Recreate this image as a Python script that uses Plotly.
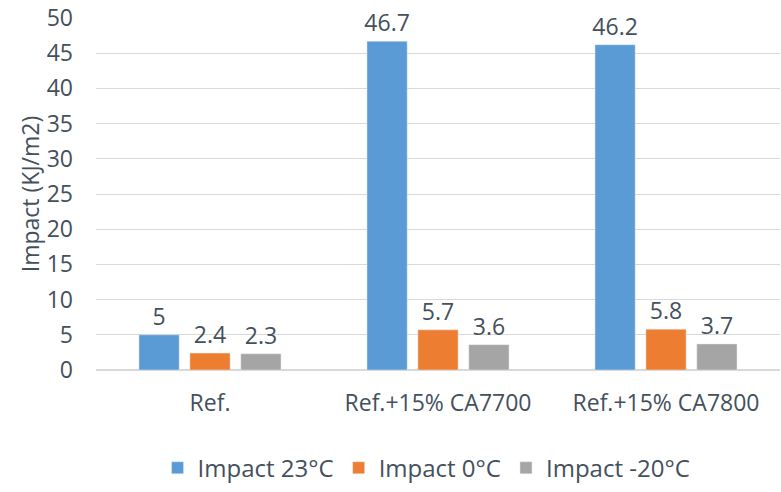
import plotly.graph_objects as go

categories = ["Ref.", "Ref.+15% CA7700", "Ref.+15% CA7800"]
series_names = ["Impact 23°C", "Impact 0°C", "Impact -20°C"]
impact_23 = [5, 46.7, 46.2]
impact_0 = [2.4, 5.7, 5.8]
impact_m20 = [2.3, 3.6, 3.7]
colors = ["#5B9BD5", "#ED7D31", "#A5A5A5"]

txt = "#44505C"
font_family = "Open Sans, Liberation Sans, sans-serif"
fs = 23

fig = go.Figure()
for name, vals, c in zip(series_names, [impact_23, impact_0, impact_m20], colors):
    fig.add_trace(go.Bar(
        x=categories, y=vals, name=name, marker_color=c,
        text=[f"{v:g}" for v in vals], textposition="outside",
        textfont=dict(size=fs, color=txt, family=font_family),
        cliponaxis=False, constraintext="none",
    ))

fig.update_layout(
    width=781, height=492,
    margin=dict(l=96, r=1, t=16, b=118),
    paper_bgcolor="white", plot_bgcolor="white",
    barmode="group", bargap=0.33, bargroupgap=0.21,
    font=dict(family=font_family, size=fs, color=txt),
    legend=dict(orientation="h", x=0.09, xanchor="left", y=-0.215, yanchor="top",
                font=dict(size=24, color=txt), itemwidth=30, traceorder="normal"),
    yaxis=dict(range=[0, 50], dtick=5,
               showgrid=True, gridcolor="#D9D9D9", gridwidth=1,
               zeroline=True, zerolinecolor="#D9D9D9", ticks="", showline=False,
               tickfont=dict(size=fs, color=txt), ticklabelstandoff=22,
               ticklabeloverflow="allow",
               title=dict(text="Impact (KJ/m2)", font=dict(size=fs, color=txt), standoff=0)),
    xaxis=dict(showline=True, linecolor="#D9D9D9", ticks="", ticklabelstandoff=12,
               tickfont=dict(size=fs, color=txt)),
)
fig.write_html("out.html", config={"displayModeBar": False},
               post_script="document.body.style.margin='0';")
